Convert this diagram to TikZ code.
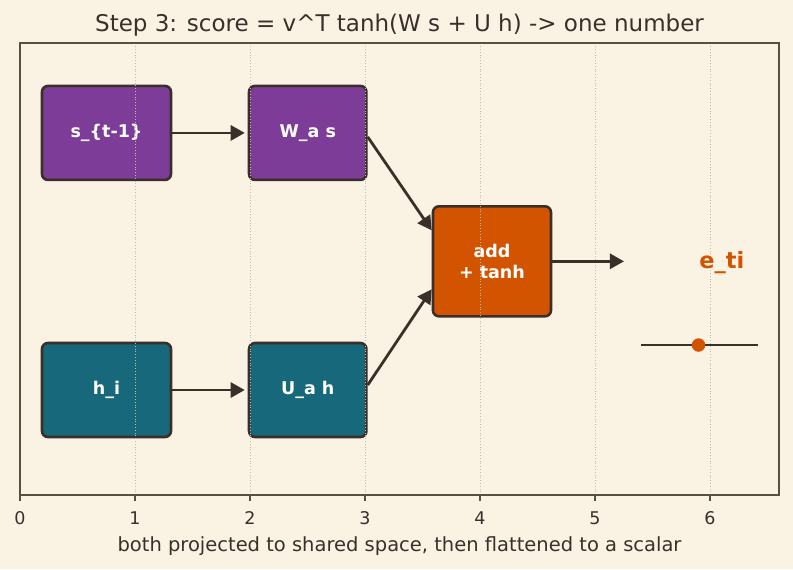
\documentclass[tikz,border=0pt]{standalone}
\usepackage{fontspec}
\setmainfont{DejaVu Sans}
\usepackage{xcolor}
\usepackage{tikz}
\usetikzlibrary{arrows.meta, positioning}
\definecolor{paper}{HTML}{FAF2E3}
\definecolor{ink}{HTML}{3B2F2A}
\definecolor{axisline}{HTML}{5A4E44}
\definecolor{gridgray}{HTML}{C4BBAE}
\definecolor{plum}{HTML}{7D3C98}
\definecolor{deepteal}{HTML}{17687A}
\definecolor{pumpkin}{HTML}{D35400}

\tikzset{
  blockbox/.style={draw=ink, line width=2.6pt, rounded corners=6pt, text=white,
    font=\fontsize{17.5}{21}\selectfont\bfseries, minimum height=94pt,
    align=center, inner sep=0pt},
  flow/.style={-{Triangle[length=14pt, width=15pt]}, line width=2.8pt, draw=ink},
  ticklabel/.style={anchor=base, text=ink, font=\fontsize{17.5}{21}\selectfont},
}

\begin{document}
\begin{tikzpicture}[x=115pt, y=113pt]
          % Canvas
          \useasboundingbox (-0.1739, -0.6549) rectangle (6.7217, 4.3805);
          \fill[paper] (-0.1739, -0.6549) rectangle (6.7217, 4.3805);

          % Blocks
          \node[blockbox, fill=plum, minimum width=129pt] (sprev) at (0.752, 3.204) {s\_\{t-1\}};
          \node[blockbox, fill=plum, minimum width=117.4pt] (wproj) at (2.502, 3.204) {W\_a s};
          \node[blockbox, fill=deepteal, minimum width=129pt] (hvec) at (0.752, 0.929) {h\_i};
          \node[blockbox, fill=deepteal, minimum width=117.4pt] (uproj) at (2.502, 0.929) {U\_a h};
          \node[blockbox, fill=pumpkin, minimum width=118pt, minimum height=110pt] (addtanh) at (4.104, 2.068) {add\\+ tanh};

          % Grid
          \foreach \gx in {1,...,6}
            \draw[gridgray, line width=0.8pt, dotted] (\gx, 0) -- (\gx, 4);

          % Messages
          \draw[flow, shorten >=3pt] (sprev) -- (wproj);
          \draw[flow, shorten >=3pt] (hvec) -- (uproj);
          \draw[flow] ([yshift=-4pt]wproj.east) -- ([yshift=31pt]addtanh.west);
          \draw[flow] ([yshift=5pt]uproj.east) -- ([yshift=-28pt]addtanh.west);
          \coordinate (outtip) at (5.252, 2.064);
          \draw[flow] (addtanh.east) -- (addtanh.east -| outtip);

          % Scalar
          \node[text=pumpkin, font=\fontsize{22.5}{27}\selectfont\bfseries] (eti) at (6.102, 2.06) {e\_ti};
          \coordinate (lineL) at (5.4, 1.327);
          \coordinate (lineR) at (6.42, 1.327);
          \draw[ink, line width=2.8pt] (lineL) -- (lineR);
          \node[circle, fill=pumpkin, inner sep=0pt, minimum size=13.5pt] (score) at (5.9, 1.327) {};

          % Axes
          \draw[axisline, line width=1.6pt] (0, 0) rectangle (6.6, 4);
          \foreach \gx in {0,...,6} {
            \draw[axisline, line width=1.6pt] (\gx, 0) -- ++(0, -6pt);
            \node[ticklabel] (tick\gx) at (\gx, -0.259) {\gx};
          }
          \node[anchor=base, text=ink, font=\fontsize{19.5}{23}\selectfont] (xlab) at (3.3, -0.502) {both projected to shared space, then flattened to a scalar};
          \node[anchor=base, text=ink, font=\fontsize{23}{27}\selectfont] (title) at (3.3, 4.100) {Step 3: score = v\textasciicircum T tanh(W s + U h) -> one number};
    \end{tikzpicture}
\end{document}
